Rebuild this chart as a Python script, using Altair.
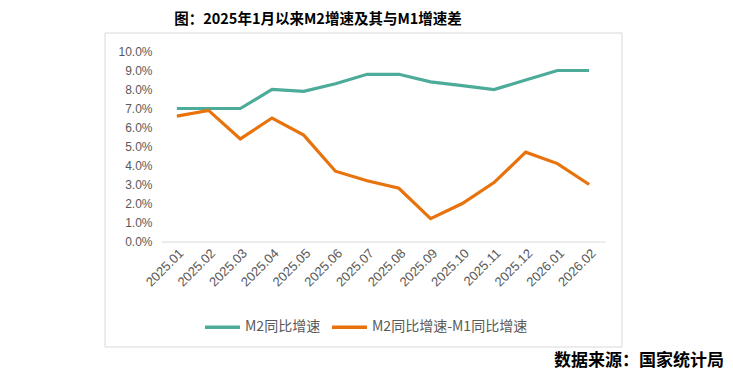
import altair as alt
import pandas as pd

months = ["2025.01", "2025.02", "2025.03", "2025.04", "2025.05", "2025.06", "2025.07",
          "2025.08", "2025.09", "2025.10", "2025.11", "2025.12", "2026.01", "2026.02"]
m2_growth = [7.0, 7.0, 7.0, 8.0, 7.9, 8.3, 8.8, 8.8, 8.4, 8.2, 8.0, 8.5, 9.0, 9.0]
m2_m1_gap = [6.6, 6.9, 5.4, 6.5, 5.6, 3.7, 3.2, 2.8, 1.2, 2.0, 3.1, 4.7, 4.1, 3.0]
series_names = ["M2同比增速", "M2同比增速-M1同比增速"]
series_colors = ["#4CAB99", "#E8720C"]
y_ticks = list(range(0, 11))

title_text = "图：2025年1月以来M2增速及其与M1增速差"
source_text = "数据来源：国家统计局"

rows = []
for m, v in zip(months, m2_growth):
    rows.append({"month": m, "value": v, "series": series_names[0]})
for m, v in zip(months, m2_m1_gap):
    rows.append({"month": m, "value": v, "series": series_names[1]})
df = pd.DataFrame(rows)

W, H = 444, 190
PAD_L, PAD_T = 153, 43.5

frame = alt.Chart(pd.DataFrame({"k": [0]})).mark_rect(
    fill="transparent", stroke="#D9D9D9", strokeWidth=1
).encode(
    x=alt.value(-56), x2=alt.value(461), y=alt.value(-18.5), y2=alt.value(295.5)
)

lines = alt.Chart(df).mark_line(strokeWidth=3.2).encode(
    x=alt.X("month:O", sort=months,
            scale=alt.Scale(type="point", padding=0.5),
            axis=alt.Axis(title=None, labelAngle=-45, ticks=False,
                          domainColor="#D9D9D9", domainWidth=1,
                          labelColor="#595959", labelFontSize=13,
                          labelFont="Liberation Sans", labelPadding=5)),
    y=alt.Y("value:Q", scale=alt.Scale(domain=[0, 10], nice=False, zero=True),
            axis=alt.Axis(title=None, values=y_ticks,
                          labelExpr="format(datum.value, '.1f') + '%'",
                          grid=False, domain=False, ticks=False,
                          labelColor="#595959", labelFontSize=12,
                          labelFont="Liberation Sans", labelPadding=9)),
    color=alt.Color("series:N",
                    scale=alt.Scale(domain=series_names, range=series_colors),
                    legend=alt.Legend(title=None, orient="none",
                                      legendX=42, legendY=256,
                                      direction="horizontal",
                                      symbolType="stroke", symbolStrokeWidth=3.5,
                                      symbolSize=1225, labelFontSize=14,
                                      labelColor="#595959",
                                      labelFont="Noto Sans CJK SC",
                                      labelOffset=3, columnPadding=4)),
)

title = alt.Chart(pd.DataFrame({"t": [title_text]})).mark_text(
    font="Noto Sans CJK SC", fontSize=14.5, fontWeight="bold", color="#000000",
    align="center", baseline="middle"
).encode(text="t:N", x=alt.value(157), y=alt.value(-32))

source = alt.Chart(pd.DataFrame({"t": [source_text]})).mark_text(
    font="Noto Sans CJK SC", fontSize=17, fontWeight="bold", color="#000000",
    align="right", baseline="middle"
).encode(text="t:N", x=alt.value(563), y=alt.value(309.5))

chart = alt.layer(frame, lines, title, source).properties(
    width=W, height=H,
    autosize=alt.AutoSizeParams(type="none"),
    padding={"left": PAD_L, "top": PAD_T, "right": 717 - PAD_L - W, "bottom": 364 - PAD_T - H},
    background="white",
).configure_view(stroke=None)

chart.save("out.html", embed_options={"renderer": "svg", "actions": False})
